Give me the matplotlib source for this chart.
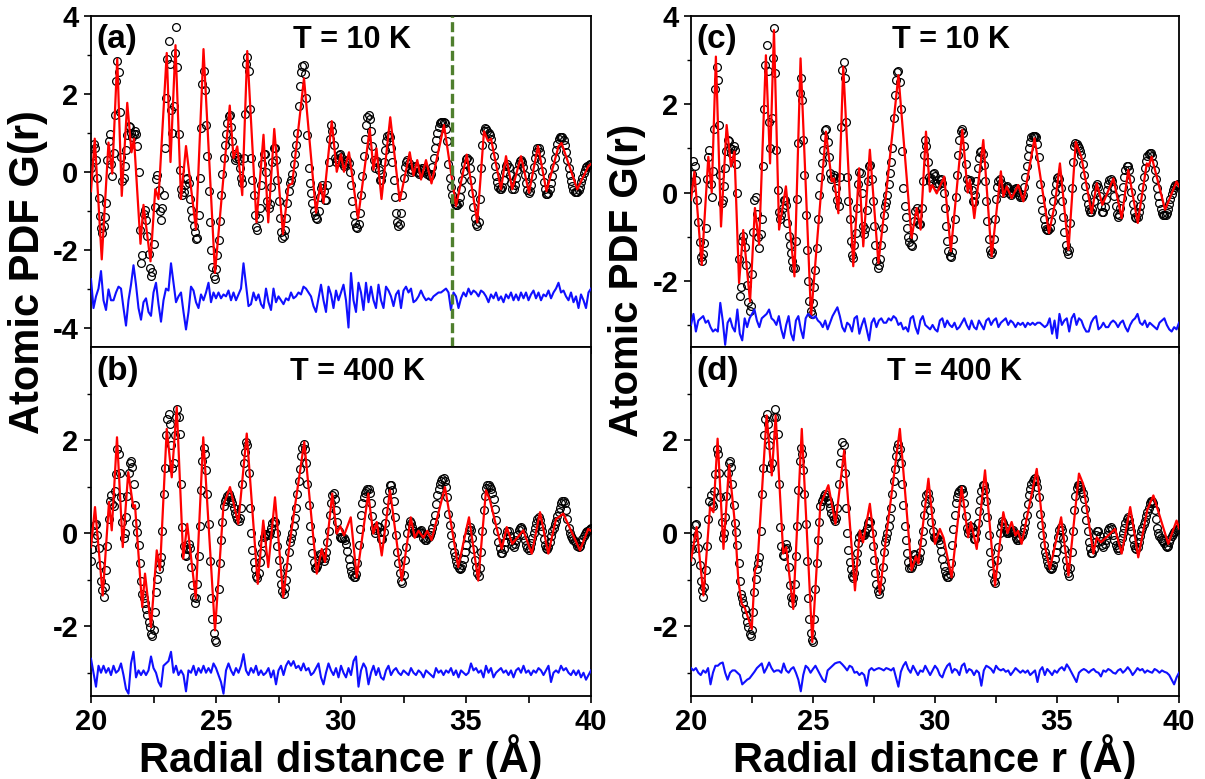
import numpy as np
import matplotlib
matplotlib.use('Agg')
import matplotlib.pyplot as plt
from matplotlib.ticker import FixedLocator

plt.rcParams['font.family'] = ['Liberation Sans', 'DejaVu Sans']
plt.rcParams['font.weight'] = 'bold'
plt.rcParams['axes.unicode_minus'] = False

g_obs_10k = [
    0.10, 0.41, 0.72, 0.61, 0.29, -0.17, -0.67, -1.13, -1.45, -1.56, -1.39, -1.15, -0.80, 0.30, 0.80, 0.97, 0.20, -0.10, 0.48, 1.45,
    2.34, 2.84, 2.56, 1.54, 0.39, -0.23, -0.17, 0.14, 0.56, 0.94, 1.18, 1.16, 1.00, 0.90, 0.98, 1.05, 0.97, 0.65, 0.00, -1.50,
    -2.35, -2.14, -1.09, -0.99, -1.24, -1.64, -2.10, -2.47, -2.68, -2.57, -1.85, -0.90, -0.18, -0.09, -0.48, -1.01, -1.25, -0.94, -0.60, 0.60,
    1.90, 2.90, 3.35, 2.76, 1.59, 1.00, 1.68, 3.04, 3.72, 2.70, 0.97, 0.05, -0.45, -0.60, -0.52, -0.34, -0.18, -0.16, -0.28, -0.70,
    -0.98, -1.18, -1.38, -1.55, -1.72, -1.70, -1.10, -0.15, 1.12, 2.25, 2.60, 2.10, 1.20, 0.40, -0.50, -1.30, -2.00, -2.45, -2.68, -2.75,
    -2.50, -2.15, -1.75, -1.26, -0.60, -0.05, 0.36, 0.68, 0.97, 1.25, 1.42, 1.45, 1.15, 0.80, 0.45, 0.30, 0.35, 0.40, 0.33, 0.10,
    -0.17, -0.30, 0.35, 1.49, 2.78, 2.95, 2.60, 1.60, 0.35, -0.20, -0.60, -1.10, -1.42, -1.49, -1.20, -0.92, -0.35, 0.20, 0.46, 0.45,
    0.00, -0.75, -0.93, -0.82, -0.39, 0.25, 0.60, 0.62, 0.30, -0.20, -0.75, -1.20, -1.55, -1.70, -1.65, -1.50, -1.20, -0.80, -0.50, -0.30,
    -0.22, -0.05, 0.20, 0.45, 0.70, 1.00, 1.70, 2.20, 2.55, 2.72, 2.75, 2.50, 1.90, 0.95, 0.10, -0.30, -0.55, -0.80, -1.00, -1.12,
    -1.20, -1.22, -1.00, -0.65, -0.42, -0.35, -0.50, -0.72, -0.72, -0.35, 0.25, 0.85, 1.20, 1.05, 0.70, 0.35, 0.26, 0.32, 0.42, 0.45,
    0.37, 0.22, 0.15, 0.20, 0.28, 0.30, 0.22, 0.00, -0.35, -0.75, -1.10, -1.32, -1.43, -1.45, -1.35, -1.05, -0.60, -0.10, 0.40, 0.85,
    1.20, 1.40, 1.45, 1.35, 1.05, 0.65, 0.30, 0.10, 0.25, 0.28, 0.05, -0.20, -0.22, -0.05, 0.25, 0.55, 0.78, 0.92, 0.95, 0.88,
    0.62, 0.25, -0.20, -0.65, -1.05, -1.30, -1.40, -1.35, -1.05, -0.60, -0.15, 0.12, 0.26, 0.30, 0.22, 0.08, 0.00, 0.05, 0.13, 0.15,
    0.10, 0.00, -0.05, -0.02, 0.04, 0.09, 0.10, 0.08, 0.02, -0.05, -0.09, -0.10, -0.05, 0.12, 0.36, 0.60, 0.82, 1.00, 1.15, 1.25,
    1.27, 1.28, 1.28, 1.25, 1.10, 0.80, 0.20, -0.15, -0.40, -0.60, -0.75, -0.82, -0.85, -0.85, -0.80, -0.65, -0.45, -0.20, 0.02, 0.20,
    0.32, 0.35, 0.30, 0.10, -0.20, -0.55, -0.90, -1.18, -1.33, -1.40, -1.30, -0.70, 0.10, 0.70, 1.05, 1.12, 1.10, 1.05, 1.00, 0.95,
    0.85, 0.65, 0.40, 0.15, -0.10, -0.27, -0.38, -0.44, -0.45, -0.38, -0.20, 0.00, 0.15, 0.20, 0.12, -0.08, -0.30, -0.44, -0.44, -0.33,
    -0.15, 0.05, 0.20, 0.28, 0.30, 0.26, 0.12, -0.08, -0.30, -0.48, -0.55, -0.50, -0.35, -0.12, 0.12, 0.35, 0.52, 0.61, 0.61, 0.52,
    0.30, 0.02, -0.25, -0.45, -0.56, -0.58, -0.55, -0.45, -0.30, -0.10, 0.12, 0.35, 0.55, 0.72, 0.83, 0.88, 0.90, 0.89, 0.82, 0.68,
    0.50, 0.30, 0.10, -0.08, -0.24, -0.37, -0.46, -0.51, -0.52, -0.52, -0.47, -0.38, -0.27, -0.15, -0.04, 0.05, 0.12, 0.16, 0.18, 0.19,
    0.20]

g_obs_400k = [
    -0.60, -0.35, -0.10, 0.18, 0.20, -0.05, -0.33, -0.68, -1.02, -1.23, -1.38, -1.16, -0.80, -0.27, 0.30, 0.70, 0.81, 0.63, 0.58, 0.90,
    1.28, 1.80, 1.70, 1.30, 0.77, 0.25, -0.10, 0.00, 0.35, 0.80, 1.30, 1.50, 1.56, 1.42, 1.05, 0.60, 0.22, 0.02, -0.25, -0.65,
    -1.02, -1.30, -1.40, -1.50, -1.62, -1.76, -1.90, -2.02, -2.16, -2.20, -2.09, -1.70, -1.27, -0.98, -0.78, -0.64, -0.52, 0.05, 0.85, 1.40,
    2.10, 2.45, 2.57, 2.35, 1.90, 1.40, 1.50, 2.10, 2.50, 2.67, 2.49, 2.14, 1.06, 0.13, -0.28, -0.46, -0.50, -0.35, -0.23, -0.33,
    -0.73, -1.12, -1.38, -1.50, -1.40, -1.10, -0.50, 0.15, 0.92, 1.55, 1.82, 1.70, 1.35, 0.85, 0.20, -0.60, -1.40, -1.85, -2.15, -2.30,
    -2.34, -1.85, -1.20, -0.65, -0.15, 0.25, 0.58, 0.70, 0.74, 0.80, 0.84, 0.78, 0.72, 0.65, 0.55, 0.44, 0.37, 0.31, 0.27, 0.33,
    0.55, 1.05, 1.50, 1.75, 1.95, 1.90, 1.30, 0.55, 0.00, -0.37, -0.62, -0.78, -0.92, -0.97, -0.85, -0.62, -0.42, -0.22, -0.08, -0.01,
    -0.01, -0.04, -0.05, 0.02, 0.12, 0.22, 0.27, 0.24, 0.00, -0.28, -0.58, -0.85, -1.10, -1.25, -1.30, -1.18, -1.00, -0.72, -0.40, -0.18,
    -0.10, 0.00, 0.16, 0.32, 0.55, 0.85, 1.12, 1.38, 1.65, 1.84, 1.92, 1.80, 1.50, 1.05, 0.60, 0.15, -0.15, -0.42, -0.62, -0.75,
    -0.76, -0.70, -0.57, -0.45, -0.46, -0.53, -0.59, -0.53, -0.40, -0.20, 0.05, 0.38, 0.65, 0.83, 0.87, 0.74, 0.50, 0.25, 0.04, -0.08,
    -0.11, -0.11, -0.10, -0.15, -0.24, -0.38, -0.55, -0.70, -0.82, -0.90, -0.94, -0.95, -0.88, -0.65, -0.25, 0.08, 0.40, 0.65, 0.78, 0.86,
    0.91, 0.94, 0.95, 0.87, 0.65, 0.37, 0.10, 0.00, 0.07, 0.15, 0.14, 0.02, -0.12, -0.12, 0.02, 0.22, 0.48, 0.72, 0.90, 1.04,
    1.04, 0.92, 0.70, 0.35, -0.05, -0.40, -0.65, -0.85, -1.02, -1.07, -0.90, -0.58, -0.30, 0.00, 0.15, 0.26, 0.22, 0.13, 0.05, 0.00,
    0.00, 0.02, 0.03, 0.04, 0.06, 0.00, -0.10, -0.15, -0.14, -0.11, -0.08, -0.04, 0.02, 0.12, 0.25, 0.38, 0.62, 0.82, 0.95, 1.05,
    1.12, 1.16, 1.18, 1.13, 1.00, 0.78, 0.42, 0.18, -0.05, -0.25, -0.40, -0.50, -0.60, -0.68, -0.74, -0.77, -0.76, -0.68, -0.55, -0.40,
    -0.25, -0.08, 0.07, 0.13, 0.06, -0.10, -0.35, -0.57, -0.72, -0.85, -0.93, -0.76, -0.40, 0.05, 0.50, 0.80, 0.97, 1.03, 1.03, 1.00,
    0.95, 0.87, 0.73, 0.52, 0.28, 0.04, -0.20, -0.33, -0.42, -0.43, -0.35, -0.20, -0.04, 0.04, 0.05, -0.06, -0.17, -0.26, -0.30, -0.24,
    -0.15, -0.03, 0.07, 0.11, 0.13, 0.09, -0.03, -0.14, -0.25, -0.33, -0.37, -0.31, -0.21, -0.10, 0.00, 0.11, 0.22, 0.30, 0.34, 0.28,
    0.16, 0.05, -0.12, -0.25, -0.32, -0.34, -0.29, -0.18, -0.06, 0.04, 0.12, 0.19, 0.27, 0.36, 0.46, 0.55, 0.64, 0.69, 0.70, 0.64,
    0.50, 0.30, 0.10, 0.00, -0.07, -0.11, -0.14, -0.16, -0.22, -0.28, -0.30, -0.27, -0.20, -0.13, -0.07, -0.02, 0.02, 0.05, 0.07, 0.09,
    0.10]

# ---- calculated G(r): knots of the red model curves ----
fit_a_r = [20.00, 20.15, 20.43, 20.70, 20.85, 21.05, 21.23, 21.45, 21.62, 21.72, 21.98, 22.10, 22.38, 22.57, 22.70,
           23.03, 23.18, 23.38, 23.60, 23.80, 24.20, 24.50, 24.96, 25.55, 25.70, 25.85, 26.05, 26.25, 26.62, 26.90,
           27.09, 27.33, 27.68, 27.90, 28.05, 28.52, 29.00, 29.18, 29.30, 29.63, 29.83, 30.00, 30.12, 30.32, 30.68,
           31.15, 31.30, 31.42, 31.62, 31.97, 32.35, 32.75, 32.90, 33.05, 33.20, 33.40, 33.62, 34.12, 34.60, 35.03,
           35.45, 35.72, 35.88, 36.00, 36.40, 36.60, 36.85, 37.20, 37.52, 37.88, 38.22, 38.70, 38.82, 39.45, 39.90, 40.00]
fit_a_g = [-0.50, 0.85, -2.25, 0.75, -0.05, 2.90, -0.62, 1.77, 0.50, 0.85, -1.85, -0.85, -2.30, -0.45, -0.70,
           3.05, 0.25, 3.25, -0.70, 0.66, -1.48, 3.15, -2.60, 1.70, 0.35, 0.65, -0.60, 3.10, -1.30, 0.95,
           -1.30, 1.10, -1.60, -0.35, -0.30, 2.40, -1.05, -0.30, -0.80, 1.30, 0.00, 0.45, 0.00, 0.50, -1.20,
           1.10, 0.05, 0.60, -0.70, 1.40, -0.75, 0.50, -0.10, 0.30, -0.20, 0.30, -0.30, 1.20, -0.88, 0.44,
           -1.30, 1.04, 0.79, 0.85, -0.45, 0.40, -0.45, 0.40, -0.54, 0.66, -0.50, 0.65, 0.74, -0.45, 0.15, 0.20]

fit_b_r = [20.00, 20.16, 20.47, 20.72, 20.83, 21.04, 21.27, 21.49, 21.69, 21.76, 22.05, 22.16, 22.40, 22.63, 22.76,
           23.03, 23.23, 23.43, 23.69, 23.85, 24.19, 24.49, 24.96, 25.30, 25.56, 25.89, 26.23, 26.67, 26.89, 27.09,
           27.36, 27.69, 27.95, 28.53, 29.03, 29.23, 29.36, 29.65, 29.83, 29.97, 30.12, 30.39, 30.63, 31.09, 31.29,
           31.43, 31.63, 31.96, 32.43, 32.79, 32.95, 33.10, 33.30, 33.45, 33.62, 34.16, 34.69, 34.90, 35.12, 35.49,
           35.80, 35.96, 36.43, 36.63, 36.85, 37.29, 37.63, 37.96, 38.29, 38.60, 38.89, 39.56, 39.89, 40.00]
fit_b_g = [-0.30, 0.56, -1.34, 0.67, 0.06, 2.06, -0.30, 1.31, 0.56, 0.60, -1.59, -0.87, -2.02, -0.37, -0.80,
           2.24, 1.20, 2.71, -0.55, 0.20, -1.41, 2.06, -2.09, 0.60, 0.99, 0.20, 2.14, -1.09, 0.27, -0.73,
           0.77, -1.38, -0.20, 1.96, -0.87, -0.34, -0.62, 0.85, -0.01, 0.15, -0.05, 0.34, -0.95, 0.85, -0.01,
           0.24, -0.48, 0.92, -1.02, 0.34, -0.10, 0.05, -0.10, 0.05, -0.15, 0.99, -0.73, -0.20, 0.34, -1.02,
           0.92, 0.70, -0.34, 0.13, -0.23, 0.06, -0.44, 0.45, -0.44, 0.30, 0.42, -0.37, 0.09, 0.05]

fit_c_r = [20.00, 20.14, 20.44, 20.71, 20.85, 21.02, 21.23, 21.46, 21.64, 21.78, 21.97, 22.14, 22.42, 22.62, 22.79,
           23.07, 23.24, 23.40, 23.61, 23.89, 24.24, 24.49, 24.92, 25.53, 25.77, 25.86, 26.04, 26.24, 26.65, 26.89,
           27.06, 27.33, 27.68, 27.95, 28.50, 29.04, 29.25, 29.41, 29.63, 29.79, 29.89, 30.07, 30.38, 30.65, 31.12,
           31.34, 31.43, 31.61, 31.98, 32.32, 32.70, 32.80, 32.94, 33.14, 33.41, 33.62, 34.08, 34.67, 34.92, 35.12,
           35.47, 35.77, 36.00, 36.42, 36.63, 36.86, 37.31, 37.65, 37.92, 38.31, 38.68, 38.75, 38.88, 39.43, 39.90, 40.00]
fit_c_g = [-0.17, 0.47, -1.64, 0.81, 0.00, 3.08, -0.77, 1.53, 0.59, 0.93, -2.05, -0.85, -2.47, -0.35, -1.18,
           3.11, 0.66, 3.68, -0.84, 0.14, -1.90, 3.04, -2.81, 1.38, 0.25, 0.32, -0.47, 2.85, -1.67, 0.55,
           -1.22, 0.97, -1.60, -0.28, 2.66, -1.03, -0.35, -0.84, 1.38, 0.02, 0.17, -0.02, 0.36, -1.33, 1.42,
           0.00, 0.29, -0.58, 1.19, -1.45, 0.48, -0.09, 0.14, -0.13, 0.17, -0.20, 1.23, -0.92, -0.24, 0.66,
           -1.30, 1.15, 0.80, -0.47, 0.21, -0.28, 0.32, -0.58, 0.51, -0.69, 0.66, 0.60, 0.81, -0.39, 0.25, 0.14]

fit_d_r = [20.00, 20.23, 20.51, 20.78, 20.92, 21.09, 21.33, 21.56, 21.80, 21.94, 22.08, 22.20, 22.49, 22.62, 22.72,
           23.10, 23.31, 23.47, 23.78, 23.90, 24.19, 24.54, 24.97, 25.30, 25.63, 25.92, 26.28, 26.72, 26.92, 27.05,
           27.33, 27.74, 27.98, 28.56, 29.04, 29.22, 29.32, 29.73, 30.00, 30.20, 30.35, 30.68, 31.09, 31.36, 31.47,
           31.71, 32.05, 32.46, 32.80, 32.97, 33.14, 33.30, 33.40, 33.55, 34.17, 34.51, 34.71, 35.17, 35.47, 35.90,
           36.07, 36.49, 36.63, 36.80, 37.38, 37.65, 38.00, 38.33, 38.70, 38.95, 39.56, 39.90, 40.00]
fit_d_g = [-0.59, 0.13, -1.34, 0.56, 0.45, 2.03, -0.34, 1.46, 0.20, -1.02, -1.52, -1.60, -2.06, -0.80, -0.70,
           2.53, 1.24, 2.53, -0.44, -0.30, -1.63, 2.24, -2.34, 0.60, 1.03, 0.20, 1.78, -1.23, 0.06, -0.20,
           0.63, -1.30, -0.15, 2.24, -0.80, -0.50, -0.65, 1.17, -0.23, 0.09, -0.10, -0.95, 0.99, -0.09, 0.24,
           -0.34, 1.35, -1.13, 0.45, 0.00, 0.24, -0.05, 0.05, -0.23, 1.38, -0.30, -0.77, 0.34, -0.91, 1.28,
           1.06, -0.44, -0.09, -0.20, 0.09, -0.44, 0.56, -0.52, 0.50, 0.81, -0.23, 0.27, 0.10]

# ---- difference curves (already offset), one value every 0.1 A ----
diff_a = [
    -2.76, -3.50, -3.20, -3.00, -2.55, -3.30, -3.55, -3.02, -3.30, -3.30,
    -3.10, -2.95, -3.00, -3.50, -3.95, -3.30, -2.90, -2.40, -2.90, -3.50,
    -3.80, -3.35, -3.25, -3.60, -3.70, -3.10, -2.85, -3.40, -3.85, -3.30,
    -3.00, -3.05, -2.35, -2.85, -3.35, -3.20, -3.10, -3.60, -4.05, -3.60,
    -2.95, -3.05, -3.35, -3.50, -3.15, -3.30, -3.10, -2.85, -3.35, -3.10,
    -3.25, -3.10, -3.25, -3.15, -3.20, -3.05, -3.30, -3.10, -3.30, -3.15,
    -3.00, -2.35, -2.90, -3.45, -3.40, -3.10, -3.30, -3.15, -3.40, -3.50,
    -3.00, -3.35, -3.55, -3.00, -3.35, -3.20, -3.30, -3.40, -3.25, -3.30,
    -3.10, -3.25, -3.20, -3.10, -3.15, -2.95, -3.00, -3.10, -3.20, -3.45,
    -3.60, -3.25, -2.90, -3.30, -3.60, -2.95, -3.15, -3.50, -3.05, -3.30,
    -3.10, -2.90, -3.30, -4.00, -2.60, -3.30, -3.60, -2.85, -3.10, -3.55,
    -2.85, -3.35, -2.95, -3.30, -3.50, -2.90, -3.30, -3.50, -2.95, -3.05,
    -3.20, -3.45, -3.15, -3.05, -3.50, -3.05, -2.95, -3.10, -3.00, -3.35,
    -3.30, -3.20, -3.05, -3.20, -3.30, -3.25, -3.30, -3.20, -3.15, -3.10,
    -3.10, -3.05, -3.00, -3.10, -3.55, -3.10, -3.20, -3.50, -3.25, -3.10,
    -3.20, -3.00, -3.15, -3.05, -3.10, -3.20, -3.05, -3.10, -3.20, -3.35,
    -3.15, -3.25, -3.10, -3.30, -3.20, -3.35, -3.15, -3.25, -3.10, -3.30,
    -3.15, -3.30, -3.10, -3.25, -3.10, -3.30, -3.15, -3.05, -3.25, -3.10,
    -3.30, -3.15, -3.20, -3.05, -3.25, -3.10, -3.00, -2.85, -3.10, -3.05,
    -3.20, -3.30, -3.10, -3.35, -3.20, -3.50, -3.15, -3.30, -3.50, -3.10,
    -3.00]

diff_b = [
    -2.70, -3.00, -3.30, -2.85, -3.00, -2.85, -3.00, -2.90, -3.05, -2.85,
    -3.00, -2.95, -2.80, -3.05, -3.35, -3.45, -2.80, -2.55, -3.10, -2.95,
    -3.05, -2.95, -3.05, -2.95, -2.65, -2.90, -3.00, -3.20, -3.30, -2.85,
    -2.80, -2.75, -2.55, -3.00, -2.85, -3.05, -2.95, -3.05, -3.40, -2.95,
    -3.00, -2.85, -3.05, -2.90, -3.00, -2.85, -3.00, -2.90, -3.00, -2.80,
    -2.90, -3.05, -3.20, -3.45, -2.95, -2.80, -2.95, -3.05, -2.90, -3.00,
    -2.85, -2.60, -2.95, -3.05, -2.90, -3.00, -2.85, -3.05, -2.95, -3.05,
    -3.00, -2.90, -3.10, -2.95, -3.25, -2.95, -2.85, -3.05, -2.85, -2.75,
    -2.85, -2.75, -2.90, -2.85, -2.95, -2.80, -2.95, -2.90, -3.05, -3.00,
    -2.90, -2.80, -3.10, -3.25, -3.00, -2.80, -2.95, -3.05, -2.90, -3.10,
    -2.85, -3.00, -3.10, -2.90, -3.05, -2.75, -2.65, -3.30, -2.95, -2.80,
    -2.90, -3.25, -3.00, -2.85, -3.05, -2.90, -3.10, -3.15, -2.95, -2.85,
    -3.05, -2.95, -2.90, -3.00, -3.05, -2.95, -3.00, -3.05, -2.90, -3.00,
    -3.05, -2.95, -3.00, -3.10, -2.95, -3.00, -3.05, -3.10, -2.90, -3.00,
    -2.95, -3.05, -2.95, -3.00, -2.90, -3.05, -2.95, -3.10, -2.95, -3.00,
    -3.05, -3.00, -2.80, -2.95, -2.90, -3.00, -2.95, -3.10, -2.85, -3.00,
    -2.90, -3.10, -3.00, -2.95, -2.90, -3.00, -2.95, -3.05, -2.95, -3.10,
    -2.95, -2.90, -3.00, -2.85, -3.00, -2.95, -3.05, -2.95, -3.00, -2.90,
    -2.95, -3.05, -2.95, -2.85, -3.20, -3.00, -2.95, -3.00, -2.85, -2.95,
    -2.90, -3.00, -3.05, -2.95, -3.05, -2.95, -3.10, -3.00, -3.15, -3.05,
    -2.95]

diff_c = [
    -3.00, -2.75, -3.15, -2.90, -2.85, -2.80, -2.95, -2.90, -3.05, -3.15,
    -3.10, -3.15, -2.50, -2.90, -3.45, -2.95, -2.85, -3.05, -3.15, -2.65,
    -3.20, -3.35, -2.85, -3.05, -2.85, -2.75, -2.65, -2.90, -3.05, -2.85,
    -2.80, -2.75, -2.65, -2.85, -2.90, -3.00, -2.80, -3.10, -3.30, -3.00,
    -2.80, -3.20, -3.35, -2.90, -2.80, -3.10, -3.30, -2.85, -2.75, -2.80,
    -2.85, -2.80, -2.90, -2.95, -3.05, -2.90, -3.10, -2.95, -2.80, -2.70,
    -2.60, -2.80, -3.05, -3.15, -2.95, -3.00, -3.15, -2.85, -2.80, -3.20,
    -3.00, -2.85, -3.10, -3.35, -2.95, -2.85, -3.05, -2.90, -2.85, -2.95,
    -2.95, -2.85, -2.90, -2.80, -2.85, -3.00, -2.95, -3.10, -3.05, -3.15,
    -2.85, -2.80, -3.05, -3.20, -2.90, -2.80, -3.00, -3.05, -3.10, -3.00,
    -3.10, -3.15, -2.90, -2.85, -3.05, -2.90, -3.00, -3.05, -2.95, -3.10,
    -3.05, -2.95, -2.85, -3.00, -3.10, -2.90, -3.05, -3.10, -2.90, -3.00,
    -3.10, -2.90, -2.85, -3.00, -2.90, -2.85, -3.05, -2.95, -2.90, -2.85,
    -3.00, -2.90, -2.95, -3.05, -2.95, -3.00, -2.95, -3.05, -2.95, -3.00,
    -2.95, -3.00, -2.95, -2.95, -3.00, -3.05, -3.00, -2.85, -3.20, -2.90,
    -3.30, -2.75, -3.00, -2.90, -2.85, -3.15, -2.85, -2.75, -3.00, -2.85,
    -2.90, -3.05, -3.15, -3.15, -2.95, -2.85, -2.80, -3.10, -3.05, -2.95,
    -3.05, -3.05, -2.95, -2.90, -2.95, -3.05, -2.95, -2.90, -3.05, -3.15,
    -3.00, -2.90, -2.85, -2.75, -2.95, -3.00, -2.90, -3.05, -2.95, -3.00,
    -3.05, -3.10, -2.95, -2.90, -2.85, -3.00, -3.10, -3.15, -3.05, -3.10,
    -2.95]

diff_d = [
    -2.90, -2.95, -2.90, -3.00, -3.05, -2.95, -3.00, -2.90, -3.25, -3.00,
    -2.85, -2.85, -2.80, -2.78, -3.00, -3.15, -3.00, -2.95, -2.95, -3.00,
    -3.05, -3.25, -3.20, -3.15, -3.12, -3.05, -2.98, -2.90, -2.85, -2.80,
    -3.00, -2.90, -2.78, -2.90, -2.98, -2.95, -2.95, -3.00, -2.80, -2.95,
    -3.00, -2.92, -2.88, -3.00, -3.15, -3.40, -3.05, -2.85, -2.90, -3.00,
    -2.92, -2.85, -2.95, -3.05, -3.15, -3.20, -2.95, -2.90, -2.85, -2.80,
    -2.78, -2.77, -2.82, -2.88, -2.95, -2.85, -2.88, -3.00, -2.98, -3.05,
    -3.00, -3.05, -3.28, -2.95, -2.90, -2.95, -2.92, -2.90, -2.92, -2.95,
    -2.90, -2.92, -2.95, -2.90, -3.10, -3.30, -2.98, -2.85, -2.77, -2.92,
    -3.00, -2.85, -2.95, -3.05, -2.95, -2.98, -2.85, -2.95, -3.05, -2.95,
    -2.85, -2.92, -3.05, -3.10, -2.95, -2.85, -2.80, -3.00, -2.92, -2.95,
    -3.05, -2.85, -2.80, -3.00, -2.92, -2.95, -3.05, -2.95, -3.00, -3.28,
    -2.95, -2.85, -2.88, -2.92, -3.00, -2.85, -2.92, -2.95, -2.92, -2.98,
    -2.95, -3.05, -2.98, -2.90, -2.95, -3.00, -2.95, -3.00, -2.95, -3.05,
    -3.00, -2.95, -3.20, -2.95, -2.88, -3.05, -2.92, -2.98, -3.05, -2.95,
    -3.00, -2.92, -2.88, -2.95, -2.82, -2.90, -3.00, -3.10, -3.20, -3.00,
    -2.95, -2.92, -2.95, -3.00, -2.95, -2.92, -2.98, -3.00, -3.08, -2.95,
    -2.98, -2.92, -2.95, -3.00, -3.02, -2.95, -2.92, -3.00, -2.95, -2.88,
    -2.95, -3.05, -2.98, -2.90, -2.95, -2.92, -3.00, -2.95, -2.98, -3.00,
    -2.92, -2.95, -3.00, -2.95, -2.98, -3.00, -3.05, -3.15, -3.25, -3.10,
    -3.00]

r_obs = np.linspace(20, 40, len(g_obs_10k))
r_diff = np.linspace(20, 40, len(diff_a))

W, H = 1205, 779
fig = plt.figure(figsize=(W / 100, H / 100), dpi=100)


def box(x0, y0, x1, y1):
    # pixel box (top-left origin) -> figure fraction rect
    return [x0 / W, 1 - y1 / H, (x1 - x0) / W, (y1 - y0) / H]


ax_a = fig.add_axes(box(91, 16, 591, 347))
ax_b = fig.add_axes(box(91, 347, 591, 696))
ax_c = fig.add_axes(box(691, 16, 1179, 347))
ax_d = fig.add_axes(box(691, 347, 1179, 696))

panels = [
    (ax_a, g_obs_10k, fit_a_r, fit_a_g, diff_a, '(a)', 'T = 10 K', (-4.5, 4), [-4, -2, 0, 2, 4], 0.522),
    (ax_b, g_obs_400k, fit_b_r, fit_b_g, diff_b, '(b)', 'T = 400 K', (-3.5, 4), [-2, 0, 2], 0.532),
    (ax_c, g_obs_10k, fit_c_r, fit_c_g, diff_c, '(c)', 'T = 10 K', (-3.5, 4), [-2, 0, 2, 4], 0.533),
    (ax_d, g_obs_400k, fit_d_r, fit_d_g, diff_d, '(d)', 'T = 400 K', (-3.5, 4), [-2, 0, 2], 0.539),
]

for ax, g_obs, fr, fg, gd, tag, temp, ylim, yt, tx in panels:
    ax.plot(r_obs, g_obs, 'o', ms=5.6, mfc='none', mec='black', mew=0.9, zorder=2)
    ax.plot(fr, fg, color='#ff0000', lw=1.6, zorder=3)
    ax.plot(r_diff, gd, color='#1010ff', lw=1.5, zorder=3)
    ax.set_xlim(20, 40)
    ax.set_ylim(*ylim)
    ax.set_yticks(yt)
    ax.yaxis.set_minor_locator(FixedLocator([-3, -1, 1, 3]))
    for s in ax.spines.values():
        s.set_linewidth(1.3)
    ax.tick_params(which='major', direction='out', length=5, width=1.2, labelsize=21, pad=4,
                   top=False, right=False)
    ax.tick_params(which='minor', direction='out', length=3, width=1.0, top=False, right=False)
    ax.tick_params(axis='x', which='minor', bottom=False)
    ax.text(0.010, 0.975, tag, transform=ax.transAxes, ha='left', va='top', fontsize=24)
    ax.text(tx, 0.972, temp, transform=ax.transAxes, ha='center', va='top', fontsize=22)

# x ticks
ax_a.set_xticks(np.arange(20, 40.1, 2.5))
ax_a.tick_params(labelbottom=False)
ax_c.set_xticks(np.arange(20, 40.1, 1.0))
ax_c.tick_params(labelbottom=False)
for ax in (ax_b, ax_d):
    ax.set_xticks(np.arange(20, 40.1, 2.5))
    ax.set_xticklabels(['20', '', '25', '', '30', '', '35', '', '40'])

# vertical marker in panel (a)
ax_a.axvline(34.45, color='#4f7f2e', lw=2.4, ls=(0, (3, 1.3)), zorder=4)

# axis titles
fig.text(28 / W, 1 - 272 / H, 'Atomic PDF G(r)', rotation=90, ha='center', va='center', fontsize=30)
fig.text(627 / W, 1 - 280 / H, 'Atomic PDF G(r)', rotation=90, ha='center', va='center', fontsize=29)
fig.text(341 / W, 1 - 758 / H, 'Radial distance r (Å)', ha='center', va='center', fontsize=30)
fig.text(935 / W, 1 - 758 / H, 'Radial distance r (Å)', ha='center', va='center', fontsize=30)

fig.savefig('out.png', dpi=100)
